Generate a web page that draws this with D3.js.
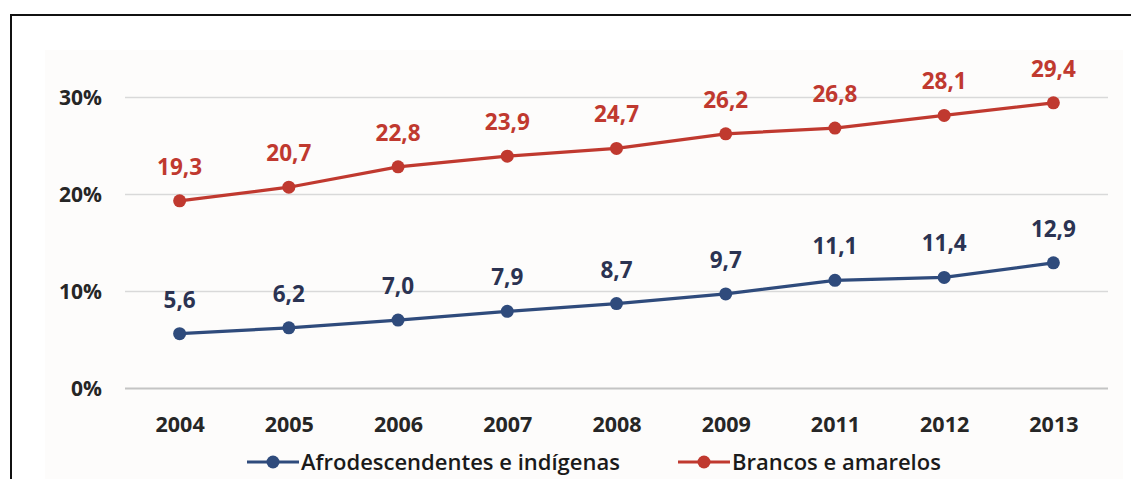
<!DOCTYPE html>
<html>
<head>
<meta charset="utf-8">
<script src="https://cdn.jsdelivr.net/npm/d3@7"></script>
<style>
  html, body { margin: 0; padding: 0; background: #ffffff; }
  svg { display: block; }
</style>
</head>
<body>
<svg id="chart" width="1131" height="479"></svg>
<script>
// Years on the horizontal axis (2010 is not in the series)
const years = ["2004", "2005", "2006", "2007", "2008", "2009", "2011", "2012", "2013"];
// Share (%) for each group
const afroIndigenas = [5.6, 6.2, 7.0, 7.9, 8.7, 9.7, 11.1, 11.4, 12.9];
const brancosAmarelos = [19.3, 20.7, 22.8, 23.9, 24.7, 26.2, 26.8, 28.1, 29.4];
// Vertical axis ticks
const yTicks = [0, 10, 20, 30];
const seriesNames = ["Afrodescendentes e indígenas", "Brancos e amarelos"];

const blue = "#2f4b7c", blueText = "#2b3352";
const red = "#c0392f", redText = "#c0392f";
const fontFamily = "'Open Sans', 'Liberation Sans', sans-serif";

const svg = d3.select("#chart");

// frame and panel
svg.append("rect").attr("x", 45).attr("y", 50).attr("width", 1078).attr("height", 429)
  .attr("fill", "#fdfcfb");
svg.append("path").attr("d", "M11,480 V15 H1131")
  .attr("fill", "none").attr("stroke", "#111").attr("stroke-width", 2);

const x = d3.scalePoint().domain(years).range([125, 1108]).padding(0.5);
const y = d3.scaleLinear().domain([0, 30]).range([388, 97]);

// horizontal gridlines
const yAxis = d3.axisLeft(y).tickValues(yTicks).tickSize(-(1108 - 125))
  .tickPadding(23).tickFormat(d => d + "%");
const gy = svg.append("g").attr("transform", "translate(125,0)").call(yAxis);
gy.select(".domain").remove();
gy.selectAll(".tick line")
  .attr("stroke", d => d === 0 ? "#c4c4c4" : "#d9d9d9")
  .attr("stroke-width", d => d === 0 ? 2 : 1.5);
gy.selectAll(".tick text")
  .attr("fill", "#262626").attr("font-family", fontFamily)
  .attr("font-weight", "bold").attr("font-size", 21).attr("dy", "0.35em");

// category axis
const xAxis = d3.axisBottom(x).tickSize(0).tickPadding(0);
const gx = svg.append("g").attr("transform", "translate(0,388)").call(xAxis);
gx.select(".domain").remove();
gx.selectAll(".tick text")
  .attr("fill", "#262626").attr("font-family", fontFamily)
  .attr("font-weight", "bold").attr("font-size", 21.5).attr("dy", null).attr("y", 44);

const line = d3.line().x((d, i) => x(years[i])).y(d => y(d));

function drawSeries(values, color, textColor) {
  const g = svg.append("g");
  g.append("path").datum(values).attr("d", line)
    .attr("fill", "none").attr("stroke", color).attr("stroke-width", 3.2)
    .attr("stroke-linejoin", "round");
  g.selectAll("circle").data(values).join("circle")
    .attr("cx", (d, i) => x(years[i])).attr("cy", d => y(d)).attr("r", 6.5)
    .attr("fill", color);
  g.selectAll("text").data(values).join("text")
    .attr("x", (d, i) => x(years[i])).attr("y", d => y(d) - 26)
    .attr("text-anchor", "middle").attr("fill", textColor)
    .attr("font-family", fontFamily).attr("font-weight", "bold").attr("font-size", 22.5)
    .text(d => d.toFixed(1).replace(".", ","));
}
drawSeries(brancosAmarelos, red, redText);
drawSeries(afroIndigenas, blue, blueText);

// legend
const legendItems = [
  { name: seriesNames[0], color: blue, x0: 247 },
  { name: seriesNames[1], color: red, x0: 678 }
];
const lg = svg.append("g").attr("transform", "translate(0,462)");
legendItems.forEach(it => {
  lg.append("line").attr("x1", it.x0).attr("x2", it.x0 + 52).attr("y1", 0).attr("y2", 0)
    .attr("stroke", it.color).attr("stroke-width", 3.2);
  lg.append("circle").attr("cx", it.x0 + 26).attr("cy", 0).attr("r", 6.5).attr("fill", it.color);
  lg.append("text").attr("x", it.x0 + 54).attr("y", 0).attr("dy", "0.35em")
    .attr("fill", "#1a1a1a").attr("font-family", fontFamily).attr("font-size", 22)
    .attr("font-weight", 600)
    .text(it.name);
});
</script>
</body>
</html>
